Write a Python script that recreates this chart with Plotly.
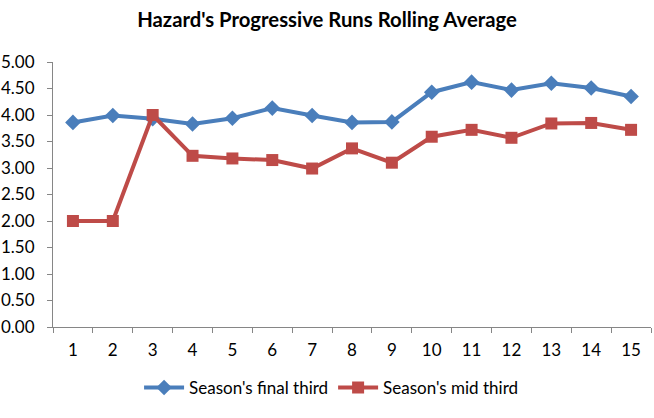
import plotly.graph_objects as go

categories = [str(i) for i in range(1, 16)]
final_third = [3.86, 3.99, 3.93, 3.83, 3.94, 4.13, 3.99, 3.86, 3.87, 4.43, 4.62, 4.47, 4.60, 4.51, 4.35]
mid_third = [2.00, 2.00, 4.00, 3.23, 3.18, 3.15, 2.99, 3.37, 3.10, 3.59, 3.72, 3.57, 3.84, 3.85, 3.72]
y_ticks = [0, 0.5, 1, 1.5, 2, 2.5, 3, 3.5, 4, 4.5, 5]

FONT = "Lato, 'Open Sans', sans-serif"
BLUE = "#4a7ebb"
RED = "#be4b48"

fig = go.Figure()
fig.add_trace(go.Scatter(
    x=categories, y=final_third, name="Season's final third",
    mode="lines+markers",
    line=dict(color=BLUE, width=4),
    marker=dict(symbol="diamond", size=12, color=BLUE),
))
fig.add_trace(go.Scatter(
    x=categories, y=mid_third, name="Season's mid third",
    mode="lines+markers",
    line=dict(color=RED, width=4),
    marker=dict(symbol="square", size=12, color=RED),
))

fig.update_layout(
    width=654, height=418,
    margin=dict(l=53, r=3, t=62, b=91, autoexpand=False),
    paper_bgcolor="white", plot_bgcolor="white",
    title=dict(text="<b>Hazard's Progressive Runs Rolling Average</b>",
               x=0.5, xanchor="center", y=0.952, yanchor="middle",
               font=dict(family=FONT, size=20.3, color="black")),
    font=dict(family=FONT, size=17, color="black"),
    showlegend=True,
    legend=dict(orientation="h", x=0.465, xanchor="center", y=-0.23, yanchor="middle",
                font=dict(family=FONT, size=17, color="black"),
                itemwidth=40, tracegroupgap=0),
)
fig.update_xaxes(
    type="category", range=[-0.5, 14.5], tickson="boundaries", ticks="outside", ticklen=5,
    tickcolor="#868686", showline=True, linecolor="#868686", linewidth=1,
    showgrid=False, tickfont=dict(size=17), ticklabelstandoff=8, automargin=False,
)
fig.update_yaxes(
    range=[0, 5], tickvals=y_ticks, tickformat=".2f", ticks="outside", ticklen=5,
    tickcolor="#868686", showline=True, linecolor="#868686", linewidth=1,
    showgrid=False, zeroline=False, tickfont=dict(size=17), ticklabelstandoff=9,
    automargin=False,
)

fig.write_html("out.html", config={"displayModeBar": False},
               post_script="document.body.style.margin='0';")
